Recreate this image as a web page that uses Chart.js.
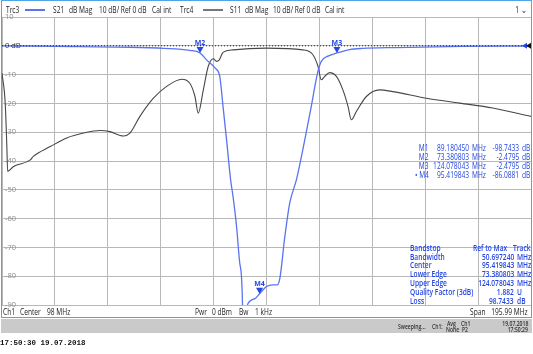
<!DOCTYPE html>
<html>
<head>
<meta charset="utf-8">
<script src="https://cdn.jsdelivr.net/npm/chart.js@4/dist/chart.umd.min.js"></script>
<style>
body { margin: 0; background: #fff; }
#wrap { position: relative; width: 533px; height: 354px; overflow: hidden; font-family: "Open Sans", sans-serif; }
#c { position: absolute; left: 0; top: 0; }
#frame { position: absolute; left: 1px; top: 0; width: 529px; height: 316px; border: 1px solid #4ea6e6; }
#status { position: absolute; left: 1px; top: 319px; width: 531px; height: 14px; background: #cacaca; }
.t { position: absolute; white-space: nowrap; font-size: 8.5px; line-height: 10px; color: #222; }
.b { color: #2346e0; }
.bb { color: #2346e0; font-weight: 600; }
.s { font-size: 6.5px; line-height: 7px; color: #333; font-weight: 600; }
.mono { font-family: "Liberation Mono", monospace; font-weight: bold; font-size: 7.5px; color: #111; }
.ln { position: absolute; height: 2px; }
</style>
</head>
<body>
<div id="wrap">
<canvas id="c" width="533" height="354"></canvas>
<div id="frame"></div>
<div id="status"></div>
</div>
<script>
// S21 (Trc3) transmission, MHz / dB
var s21Freq = [0.005, 20, 47.4, 60, 69.6, 73.38, 75.8, 78.9, 80.7, 81.9, 83.2, 84.7, 85.6, 86.9, 88.1, 89.1, 89.18, 90.2, 91.1, 93.7, 95.42, 98.0, 100.4, 101.9, 102.9, 104.8, 106.6, 109.1, 112.2, 114.6, 116.9, 118.3, 121, 124.08, 128.8, 133.6, 145.8, 170.6, 195.995];
var s21dB = [0, -0.2, -0.5, -0.9, -1.6, -2.48, -4.9, -7.7, -10.7, -21.1, -32.6, -46.5, -52.3, -62.7, -75.5, -89.4, -98.74, -95, -89.6, -87.8, -86.09, -83.6, -83.0, -83.0, -81, -66.2, -54.6, -46.5, -32.6, -21, -9.5, -5.4, -3.5, -2.48, -1.3, -0.9, -0.6, -0.2, -0.1];

// S11 (Trc4) reflection, MHz / dB
var s11Freq = [0.005, 1.2, 1.8, 2.1, 4.3, 10.5, 11.6, 17.9, 24.0, 30.2, 36.4, 40.0, 45.0, 47.4, 51.1, 56.1, 61.0, 66.6, 69.6, 71.5, 72.7, 74.6, 76.4, 78.3, 79.5, 80.5, 81.9, 85.6, 98.0, 111.5, 115.2, 117.1, 118.3, 119.6, 121.4, 123.9, 126.3, 128.2, 129.4, 131.3, 135.0, 139.9, 144.8, 157.2, 169.5, 181.8, 195.995];
var s11dB = [-9.5, -20, -35, -43.6, -41.9, -39.6, -38.4, -35, -32, -30.3, -29.4, -29.8, -31.3, -30.3, -24.5, -18.2, -14.1, -11.6, -13, -17.6, -23.4, -15.3, -7.2, -4.5, -5.4, -4.9, -2.3, -1.4, -0.8, -1.4, -3.1, -7.2, -11.8, -10.6, -9.3, -10.6, -15.3, -21, -25.7, -22.8, -17.6, -15.3, -15.9, -18.2, -19.9, -21.6, -24.5];

var markerNames = ['M1', 'M2', 'M3', 'M4'];
var markerFreq = [89.18045, 73.380803, 124.078043, 95.419843];
var markerVal = [-98.7433, -2.4795, -2.4795, -86.0881];

var refLevel = 0;
var xStart = 0.005, xStop = 195.995;
var yTop = 10, yBottom = -90, yStep = 10;

function pts(fx, fy) {
    var out = [];
    for (var i = 0; i < fx.length; i++) out.push({ x: fx[i], y: fy[i] });
    return out;
}

var markerPlugin = {
    id: 'markers',
    afterDatasetsDraw: function (chart) {
        var ctx = chart.ctx, xs = chart.scales.x, ys = chart.scales.y, a = chart.chartArea;
        ctx.save();
        ctx.beginPath();
        ctx.rect(a.left, a.top - 14, a.right - a.left, a.bottom - a.top + 14);
        ctx.clip();
        ctx.fillStyle = '#2346e0';
        ctx.font = 'bold 7px "Open Sans"';
        ctx.textAlign = 'center';
        for (var i = 0; i < markerNames.length; i++) {
            var px = xs.getPixelForValue(markerFreq[i]);
            var py = ys.getPixelForValue(markerVal[i]);
            if (py > a.bottom) continue;
            ctx.beginPath();
            ctx.moveTo(px, py);
            ctx.lineTo(px - 3.5, py - 6);
            ctx.lineTo(px + 3.5, py - 6);
            ctx.closePath();
            ctx.fill();
            ctx.fillText(markerNames[i], px, py - 8);
        }
        // reference level arrows on the right edge
        var y0 = ys.getPixelForValue(refLevel);
        ctx.beginPath();
        ctx.moveTo(a.right - 9, y0); ctx.lineTo(a.right - 4, y0 - 3); ctx.lineTo(a.right - 4, y0 + 3); ctx.closePath();
        ctx.fill();
        ctx.fillStyle = '#111';
        ctx.beginPath();
        ctx.moveTo(a.right - 5, y0); ctx.lineTo(a.right, y0 - 3); ctx.lineTo(a.right, y0 + 3); ctx.closePath();
        ctx.fill();
        ctx.restore();
    }
};

var chart = new Chart(document.getElementById('c'), {
    type: 'line',
    data: {
        datasets: [{
            label: 'Ref',
            data: [{ x: xStart, y: refLevel }, { x: xStop, y: refLevel }],
            borderColor: '#222',
            borderWidth: 1,
            borderDash: [1, 2],
            pointRadius: 0
        }, {
            label: 'S21',
            data: pts(s21Freq, s21dB),
            borderColor: '#5874f2',
            borderWidth: 1.3,
            pointRadius: 0,
            cubicInterpolationMode: 'monotone'
        }, {
            label: 'S11',
            data: pts(s11Freq, s11dB),
            borderColor: '#474747',
            borderWidth: 1.1,
            pointRadius: 0,
            cubicInterpolationMode: 'monotone'
        }]
    },
    options: {
        responsive: false,
        animation: false,
        layout: { padding: { left: 2, right: 2, top: 17, bottom: 49 } },
        plugins: { legend: { display: false }, tooltip: { enabled: false } },
        scales: {
            x: {
                type: 'linear',
                min: xStart,
                max: xStop,
                afterBuildTicks: function (s) {
                    var t = [];
                    for (var i = 0; i <= 10; i++) t.push({ value: xStart + i * (xStop - xStart) / 10 });
                    s.ticks = t;
                },
                afterFit: function (s) { s.height = 0; },
                ticks: { display: false },
                grid: { color: '#b8b8b8', drawTicks: false },
                border: { display: false }
            },
            y: {
                min: yBottom,
                max: yTop,
                afterFit: function (s) { s.width = 0; },
                ticks: {
                    stepSize: yStep,
                    mirror: true,
                    padding: 3,
                    font: { family: 'Open Sans', size: 7.5 },
                    color: function (c) { return c.tick && c.tick.value === 0 ? '#333' : '#8c8c8c'; },
                    callback: function (v) { return v === 0 ? '0 dB' : String(v); }
                },
                grid: { color: '#b8b8b8', drawTicks: false },
                border: { display: false }
            }
        }
    },
    plugins: [markerPlugin]
});

// texts (screen font is narrow, so squeeze horizontally)
var wrap = document.getElementById('wrap');
var squeeze = 0.78;
function put(txt, x, y, cls, right) {
    var d = document.createElement('div');
    d.className = 't ' + (cls || '');
    d.textContent = txt;
    wrap.appendChild(d);
    var h = d.offsetHeight;
    d.style.top = (y - h / 2) + 'px';
    d.style.left = (right ? x - d.offsetWidth : x) + 'px';
    if (cls !== 'mono') {
        d.style.transform = 'scaleX(' + squeeze + ')';
        d.style.transformOrigin = right ? 'right center' : 'left center';
    }
    return d;
}
function line(x1, x2, y, col) {
    var d = document.createElement('div');
    d.className = 'ln';
    d.style.left = x1 + 'px'; d.style.width = (x2 - x1) + 'px';
    d.style.top = (y - 1) + 'px'; d.style.background = col;
    wrap.appendChild(d);
}

// header
put('Trc3', 6, 10); line(25, 45, 10, '#5874f2');
put('S21', 53, 10); put('dB Mag', 69, 10); put('10 dB/ Ref 0 dB', 99, 10); put('Cal int', 152, 10);
put('Trc4', 180, 10); line(203, 223, 10, '#777');
put('S11', 230, 10); put('dB Mag', 245, 10); put('10 dB/ Ref 0 dB', 273, 10); put('Cal int', 325, 10);
put('1 \u2304', 527, 10, '', true);

// marker table
var mRows = [
    ['M1', '89.180450', '-98.7433'],
    ['M2', '73.380803', '-2.4795'],
    ['M3', '124.078043', '-2.4795'],
    ['\u2022 M4', '95.419843', '-86.0881']
];
for (var r = 0; r < mRows.length; r++) {
    var yy = 148 + r * 9;
    put(mRows[r][0], 429, yy, 'b', true);
    put(mRows[r][1], 469, yy, 'b', true);
    put('MHz', 472, yy, 'b');
    put(mRows[r][2], 519, yy, 'b', true);
    put('dB', 522, yy, 'b');
}

// bandstop table
var bsLabels = ['Bandwidth', 'Center', 'Lower Edge', 'Upper Edge', 'Quality Factor (3dB)', 'Loss'];
var bsValues = ['50.697240', '95.419843', '73.380803', '124.078043', '1.882', '98.7433'];
var bsUnits = ['MHz', 'MHz', 'MHz', 'MHz', 'U', 'dB'];
put('Bandstop', 410, 247.5, 'bb');
put('Ref to Max', 473, 247.5, 'bb');
put('Track', 513, 247.5, 'bb');
for (var k = 0; k < bsLabels.length; k++) {
    var yb = 256.5 + k * 8.8;
    put(bsLabels[k], 410, yb, 'bb');
    put(bsValues[k], 514, yb, 'bb', true);
    put(bsUnits[k], 517, yb, 'bb');
}

// footer
put('Ch1', 3, 312); put('Center', 20, 312); put('98 MHz', 47, 312);
put('Pwr', 195, 312); put('0 dBm', 212, 312); put('Bw', 239, 312); put('1 kHz', 255, 312);
put('Span', 470, 312); put('195.99 MHz', 528, 312, '', true);

// status bar
put('Sweeping...', 398, 326, 's');
put('Ch1:', 432, 326, 's');
put('Avg', 447, 323, 's'); put('None', 446, 329.5, 's');
put('Ch1', 461, 323, 's'); put('P2', 462, 329.5, 's');
put('19.07.2018', 528, 323, 's', true); put('17:50:29', 528, 329.5, 's', true);

put('17:50:30  19.07.2018', 0, 343, 'mono');
</script>
</body>
</html>
